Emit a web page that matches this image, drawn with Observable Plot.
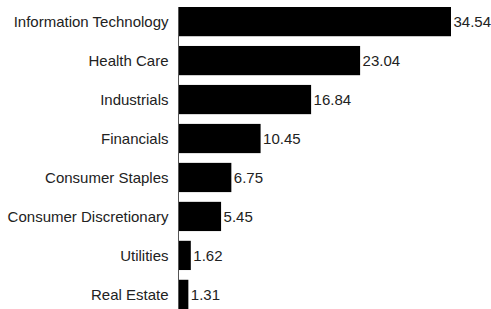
<!DOCTYPE html>
<html>
<head>
<meta charset="utf-8">
<script src="https://cdn.jsdelivr.net/npm/d3@7"></script>
<script src="https://cdn.jsdelivr.net/npm/@observablehq/plot@0.6"></script>
<style>
  html, body { margin: 0; padding: 0; background: #fff; }
  #chart svg { display: block; }
</style>
</head>
<body>
<div id="chart"></div>
<script>
const sectors = ["Information Technology", "Health Care", "Industrials", "Financials", "Consumer Staples", "Consumer Discretionary", "Utilities", "Real Estate"];
const weights = [34.54, 23.04, 16.84, 10.45, 6.75, 5.45, 1.62, 1.31];
const valueLabels = ["34.54", "23.04", "16.84", "10.45", "6.75", "5.45", "1.62", "1.31"];

const data = sectors.map((s, i) => ({sector: s, value: weights[i], label: valueLabels[i]}));

const chart = Plot.plot({
  width: 491,
  height: 309,
  marginTop: 7,
  marginBottom: 0,
  marginLeft: 178,
  marginRight: 40,
  style: {fontFamily: "'Liberation Sans', Arial, sans-serif", fontSize: "15px", color: "#222", background: "#fff"},
  x: {domain: [0, 34.54], axis: null},
  y: {domain: sectors, paddingInner: 0.25, paddingOuter: 0, round: false, label: null, tickSize: 0, tickPadding: 10},
  marks: [
    Plot.barX(data, {x: "value", y: "sector", fill: "#000"}),
    Plot.ruleX([0], {stroke: "#555", strokeWidth: 1}),
    Plot.text(data, {x: "value", y: "sector", text: "label", textAnchor: "start", dx: 2, fill: "#222", fontSize: 15})
  ]
});
document.getElementById("chart").appendChild(chart);
</script>
</body>
</html>
